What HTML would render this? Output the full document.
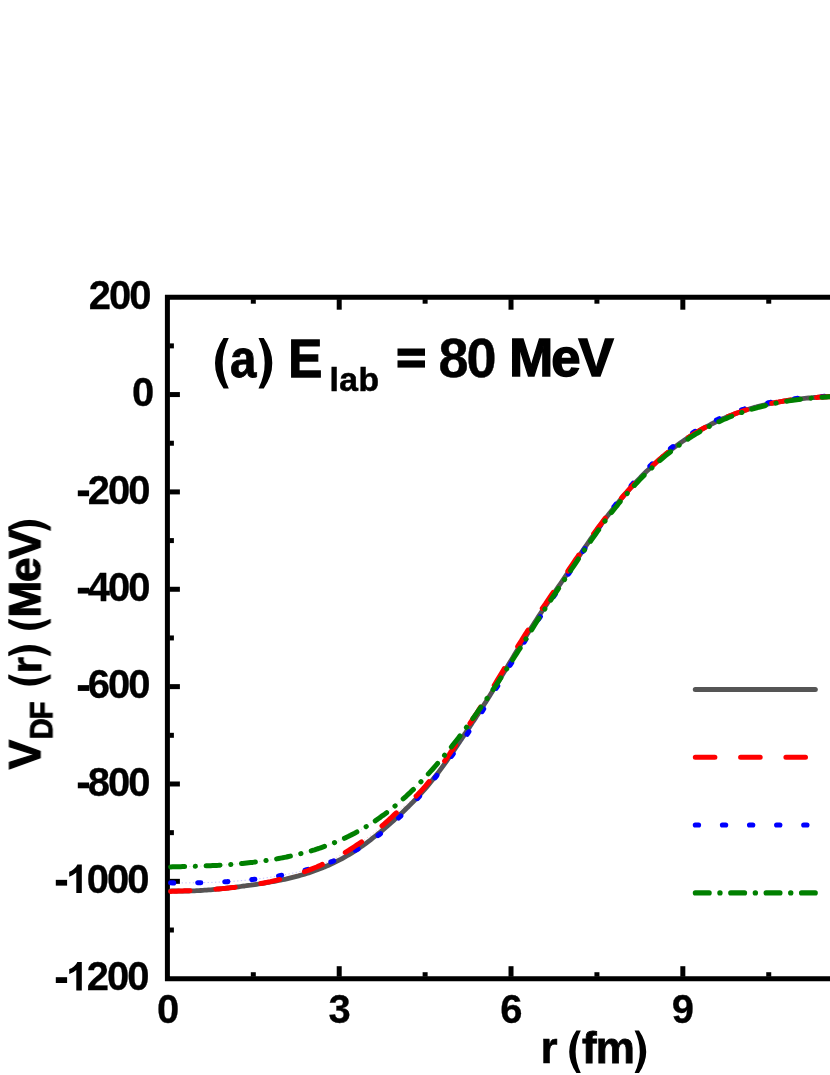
<!DOCTYPE html>
<html><head><meta charset="utf-8"><title>chart</title>
<style>
html,body{margin:0;padding:0;background:#fff;}
body{width:830px;height:1075px;overflow:hidden;}
svg{display:block;}
text{font-family:"Liberation Sans",sans-serif;font-weight:bold;fill:#000;}
</style></head><body>
<svg width="830" height="1075" viewBox="0 0 830 1075">
<rect width="830" height="1075" fill="#fff"/>
<g stroke="#000" stroke-width="5.0" fill="none">
<path d="M840,297.2 H167.4 V978.7 H840" stroke-linejoin="miter"/>
<line x1="169.40" y1="345.88" x2="173.90" y2="345.88"/>
<line x1="169.40" y1="394.56" x2="179.90" y2="394.56"/>
<line x1="169.40" y1="443.24" x2="173.90" y2="443.24"/>
<line x1="169.40" y1="491.91" x2="179.90" y2="491.91"/>
<line x1="169.40" y1="540.59" x2="173.90" y2="540.59"/>
<line x1="169.40" y1="589.27" x2="179.90" y2="589.27"/>
<line x1="169.40" y1="637.95" x2="173.90" y2="637.95"/>
<line x1="169.40" y1="686.63" x2="179.90" y2="686.63"/>
<line x1="169.40" y1="735.31" x2="173.90" y2="735.31"/>
<line x1="169.40" y1="783.99" x2="179.90" y2="783.99"/>
<line x1="169.40" y1="832.66" x2="173.90" y2="832.66"/>
<line x1="169.40" y1="881.34" x2="179.90" y2="881.34"/>
<line x1="169.40" y1="930.02" x2="173.90" y2="930.02"/>
<line x1="253.31" y1="976.70" x2="253.31" y2="972.20"/>
<line x1="253.31" y1="299.20" x2="253.31" y2="303.70"/>
<line x1="339.21" y1="976.70" x2="339.21" y2="966.20"/>
<line x1="339.21" y1="299.20" x2="339.21" y2="309.70"/>
<line x1="425.12" y1="976.70" x2="425.12" y2="972.20"/>
<line x1="425.12" y1="299.20" x2="425.12" y2="303.70"/>
<line x1="511.02" y1="976.70" x2="511.02" y2="966.20"/>
<line x1="511.02" y1="299.20" x2="511.02" y2="309.70"/>
<line x1="596.93" y1="976.70" x2="596.93" y2="972.20"/>
<line x1="596.93" y1="299.20" x2="596.93" y2="303.70"/>
<line x1="682.83" y1="976.70" x2="682.83" y2="966.20"/>
<line x1="682.83" y1="299.20" x2="682.83" y2="309.70"/>
<line x1="768.74" y1="976.70" x2="768.74" y2="972.20"/>
<line x1="768.74" y1="299.20" x2="768.74" y2="303.70"/>
</g>
<g fill="none" stroke-linecap="round" stroke-linejoin="round">
<path d="M170.6,890.9 L172.6,890.9 L174.6,891.0 L176.6,891.0 L178.6,891.0 L180.6,891.1 L182.6,891.1 L184.6,891.0 L186.6,891.0 L188.6,891.0 L190.6,890.9 L192.6,890.8 L194.6,890.8 L196.6,890.7 L198.6,890.6 L200.6,890.5 L202.6,890.4 L204.6,890.2 L206.6,890.1 L208.6,889.9 L210.6,889.8 L212.6,889.6 L214.6,889.4 L216.6,889.2 L218.6,889.0 L220.6,888.8 L222.6,888.6 L224.6,888.4 L226.6,888.2 L228.6,888.0 L230.6,887.7 L232.6,887.5 L234.6,887.3 L236.6,887.0 L238.6,886.8 L240.6,886.5 L242.6,886.2 L244.6,886.0 L246.6,885.7 L248.6,885.4 L250.6,885.2 L252.6,884.9 L254.6,884.6 L256.6,884.3 L258.6,884.0 L260.6,883.7 L262.6,883.4 L264.6,883.1 L266.6,882.7 L268.6,882.4 L270.6,882.0 L272.6,881.7 L274.6,881.3 L276.6,880.9 L278.6,880.5 L280.6,880.1 L282.6,879.7 L284.6,879.3 L286.6,878.9 L288.6,878.4 L290.6,877.9 L292.6,877.4 L294.6,876.9 L296.6,876.4 L298.6,875.9 L300.6,875.3 L302.6,874.7 L304.6,874.1 L306.6,873.5 L308.6,872.9 L310.6,872.2 L312.6,871.5 L314.6,870.8 L316.6,870.1 L318.6,869.3 L320.6,868.6 L322.6,867.8 L324.6,866.9 L326.6,866.1 L328.6,865.2 L330.6,864.3 L332.6,863.4 L334.6,862.4 L336.6,861.4 L338.6,860.4 L340.6,859.4 L342.6,858.3 L344.6,857.2 L346.6,856.0 L348.6,854.9 L350.6,853.7 L352.6,852.4 L354.6,851.2 L356.6,849.8 L358.6,848.5 L360.6,847.1 L362.6,845.7 L364.6,844.3 L366.6,842.8 L368.6,841.3 L370.6,839.8 L372.6,838.2 L374.6,836.7 L376.6,835.1 L378.6,833.4 L380.6,831.8 L382.6,830.1 L384.6,828.4 L386.6,826.7 L388.6,824.9 L390.6,823.1 L392.6,821.4 L394.6,819.6 L396.6,817.7 L398.6,815.9 L400.6,814.0 L402.6,812.2 L404.6,810.3 L406.6,808.3 L408.6,806.4 L410.6,804.4 L412.6,802.4 L414.6,800.3 L416.6,798.2 L418.6,796.1 L420.6,793.9 L422.6,791.7 L424.6,789.4 L426.6,787.1 L428.6,784.7 L430.6,782.3 L432.6,779.8 L434.6,777.3 L436.6,774.7 L438.6,772.1 L440.6,769.4 L442.6,766.6 L444.6,763.8 L446.6,761.0 L448.6,758.2 L450.6,755.3 L452.6,752.3 L454.6,749.4 L456.6,746.4 L458.6,743.4 L460.6,740.4 L462.6,737.4 L464.6,734.4 L466.6,731.4 L468.6,728.4 L470.6,725.4 L472.6,722.3 L474.6,719.3 L476.6,716.2 L478.6,713.1 L480.6,710.0 L482.6,706.9 L484.6,703.8 L486.6,700.7 L488.6,697.5 L490.6,694.3 L492.6,691.1 L494.6,687.8 L496.6,684.5 L498.6,681.2 L500.6,677.9 L502.6,674.6 L504.6,671.2 L506.6,667.9 L508.6,664.6 L510.6,661.2 L512.6,657.9 L514.6,654.6 L516.6,651.3 L518.6,648.1 L520.6,644.8 L522.6,641.6 L524.6,638.4 L526.6,635.2 L528.6,632.0 L530.6,628.8 L532.6,625.7 L534.6,622.6 L536.6,619.5 L538.6,616.4 L540.6,613.4 L542.6,610.3 L544.6,607.3 L546.6,604.3 L548.6,601.3 L550.6,598.3 L552.6,595.3 L554.6,592.3 L556.6,589.4 L558.6,586.4 L560.6,583.5 L562.6,580.5 L564.6,577.5 L566.6,574.6 L568.6,571.6 L570.6,568.6 L572.6,565.6 L574.6,562.7 L576.6,559.7 L578.6,556.8 L580.6,553.8 L582.6,550.9 L584.6,547.9 L586.6,545.0 L588.6,542.1 L590.6,539.2 L592.6,536.4 L594.6,533.5 L596.6,530.7 L598.6,527.9 L600.6,525.2 L602.6,522.5 L604.6,519.8 L606.6,517.1 L608.6,514.5 L610.6,511.9 L612.6,509.4 L614.6,506.9 L616.6,504.4 L618.6,501.9 L620.6,499.5 L622.6,497.1 L624.6,494.8 L626.6,492.5 L628.6,490.2 L630.6,488.0 L632.6,485.8 L634.6,483.6 L636.6,481.5 L638.6,479.4 L640.6,477.3 L642.6,475.3 L644.6,473.3 L646.6,471.3 L648.6,469.4 L650.6,467.5 L652.6,465.6 L654.6,463.8 L656.6,462.0 L658.6,460.2 L660.6,458.5 L662.6,456.7 L664.6,455.1 L666.6,453.4 L668.6,451.8 L670.6,450.2 L672.6,448.7 L674.6,447.2 L676.6,445.7 L678.6,444.2 L680.6,442.8 L682.6,441.4 L684.6,440.0 L686.6,438.6 L688.6,437.3 L690.6,436.0 L692.6,434.7 L694.6,433.5 L696.6,432.3 L698.6,431.1 L700.6,429.9 L702.6,428.8 L704.6,427.7 L706.6,426.6 L708.6,425.6 L710.6,424.5 L712.6,423.5 L714.6,422.5 L716.6,421.6 L718.6,420.6 L720.6,419.7 L722.6,418.8 L724.6,418.0 L726.6,417.1 L728.6,416.3 L730.6,415.5 L732.6,414.7 L734.6,413.9 L736.6,413.2 L738.6,412.5 L740.6,411.8 L742.6,411.1 L744.6,410.4 L746.6,409.8 L748.6,409.2 L750.6,408.6 L752.6,408.0 L754.6,407.4 L756.6,406.9 L758.6,406.3 L760.6,405.8 L762.6,405.3 L764.6,404.9 L766.6,404.4 L768.6,403.9 L770.6,403.5 L772.6,403.1 L774.6,402.7 L776.6,402.3 L778.6,402.0 L780.6,401.6 L782.6,401.3 L784.6,400.9 L786.6,400.6 L788.6,400.3 L790.6,400.0 L792.6,399.8 L794.6,399.5 L796.6,399.3 L798.6,399.0 L800.6,398.8 L802.6,398.6 L804.6,398.4 L806.6,398.2 L808.6,398.0 L810.6,397.8 L812.6,397.7 L814.6,397.5 L816.6,397.4 L818.6,397.2 L820.6,397.1 L822.6,397.0 L824.6,396.9 L826.6,396.8 L828.6,396.7 L830.6,396.6 L832.6,396.5 L834.6,396.5 L836.6,396.4" stroke="#555555" stroke-width="4.8"/>
<path d="M170.6,882.8 L172.6,882.9 L174.6,882.9 L176.6,882.9 L178.6,882.9 L180.6,882.9 L182.6,882.9 L184.6,882.9 L186.6,882.9 L188.6,882.9 L190.6,882.8 L192.6,882.8 L194.6,882.8 L196.6,882.8 L198.6,882.7 L200.6,882.7 L202.6,882.6 L204.6,882.6 L206.6,882.5 L208.6,882.5 L210.6,882.4 L212.6,882.4 L214.6,882.3 L216.6,882.2 L218.6,882.1 L220.6,882.0 L222.6,881.9 L224.6,881.8 L226.6,881.7 L228.6,881.6 L230.6,881.4 L232.6,881.3 L234.6,881.2 L236.6,881.0 L238.6,880.9 L240.6,880.7 L242.6,880.5 L244.6,880.3 L246.6,880.2 L248.6,880.0 L250.6,879.7 L252.6,879.5 L254.6,879.3 L256.6,879.1 L258.6,878.8 L260.6,878.6 L262.6,878.3 L264.6,878.1 L266.6,877.8 L268.6,877.5 L270.6,877.2 L272.6,876.9 L274.6,876.6 L276.6,876.2 L278.6,875.9 L280.6,875.5 L282.6,875.2 L284.6,874.8 L286.6,874.4 L288.6,874.0 L290.6,873.6 L292.6,873.2 L294.6,872.7 L296.6,872.3 L298.6,871.8 L300.6,871.3 L302.6,870.9 L304.6,870.3 L306.6,869.8 L308.6,869.3 L310.6,868.7 L312.6,868.2 L314.6,867.6 L316.6,867.0 L318.6,866.3 L320.6,865.7 L322.6,865.0 L324.6,864.3 L326.6,863.6 L328.6,862.9 L330.6,862.1 L332.6,861.3 L334.6,860.5 L336.6,859.7 L338.6,858.8 L340.6,857.9 L342.6,857.0 L344.6,856.1 L346.6,855.1 L348.6,854.1 L350.6,853.0 L352.6,852.0 L354.6,850.9 L356.6,849.7 L358.6,848.6 L360.6,847.4 L362.6,846.2 L364.6,844.9 L366.6,843.6 L368.6,842.3 L370.6,840.9 L372.6,839.5 L374.6,838.1 L376.6,836.6 L378.6,835.1 L380.6,833.6 L382.6,832.0 L384.6,830.4 L386.6,828.7 L388.6,827.0 L390.6,825.3 L392.6,823.5 L394.6,821.7 L396.6,819.9 L398.6,818.0 L400.6,816.1 L402.6,814.1 L404.6,812.2 L406.6,810.1 L408.6,808.1 L410.6,806.0 L412.6,803.9 L414.6,801.7 L416.6,799.5 L418.6,797.3 L420.6,795.1 L422.6,792.8 L424.6,790.4 L426.6,788.1 L428.6,785.7 L430.6,783.3 L432.6,780.8 L434.6,778.3 L436.6,775.8 L438.6,773.3 L440.6,770.7 L442.6,768.1 L444.6,765.5 L446.6,762.8 L448.6,760.2 L450.6,757.5 L452.6,754.7 L454.6,752.0 L456.6,749.2 L458.6,746.4 L460.6,743.6 L462.6,740.7 L464.6,737.9 L466.6,735.0 L468.6,732.1 L470.6,729.1 L472.6,726.1 L474.7,723.0 L476.8,719.8 L478.9,716.5 L481.1,713.1 L483.2,709.7 L485.4,706.2 L487.5,702.7 L489.6,699.2 L491.8,695.7 L493.9,692.2 L495.9,688.7 L498.0,685.4 L500.0,682.1 L502.0,678.7 L504.0,675.4 L506.0,672.1 L508.0,668.7 L510.0,665.4 L512.0,662.1 L514.0,658.7 L516.0,655.5 L518.0,652.2 L520.0,648.9 L522.0,645.7 L524.0,642.4 L526.0,639.2 L528.0,636.0 L530.0,632.9 L532.0,629.7 L533.9,626.6 L535.9,623.5 L537.9,620.4 L539.9,617.3 L541.9,614.2 L543.9,611.2 L545.9,608.2 L547.9,605.2 L549.9,602.2 L551.9,599.2 L553.9,596.2 L555.9,593.2 L557.9,590.3 L559.9,587.3 L561.9,584.3 L563.8,581.3 L565.8,578.3 L567.7,575.3 L569.6,572.3 L571.6,569.3 L573.5,566.3 L575.4,563.2 L577.4,560.2 L579.3,557.2 L581.2,554.2 L583.2,551.3 L585.1,548.3 L587.0,545.3 L589.0,542.4 L590.9,539.5 L592.8,536.6 L594.8,533.7 L596.7,530.8 L598.6,528.0 L600.6,525.2 L602.5,522.4 L604.5,519.7 L606.4,517.0 L608.3,514.3 L610.3,511.7 L612.2,509.1 L614.2,506.5 L616.1,504.0 L618.1,501.5 L620.0,499.0 L622.0,496.6 L623.9,494.2 L625.8,491.8 L627.8,489.5 L629.7,487.2 L631.7,485.0 L633.6,482.7 L635.6,480.5 L637.6,478.4 L639.5,476.3 L641.5,474.2 L643.5,472.2 L645.6,470.2 L647.6,468.3 L649.6,466.4 L651.6,464.5 L653.6,462.7 L655.6,460.8 L657.6,459.1 L659.6,457.3 L661.6,455.6 L663.6,453.9 L665.7,452.3 L667.7,450.6 L669.7,449.1 L671.7,447.5 L673.7,446.0 L675.7,444.5 L677.7,443.0 L679.7,441.5 L681.7,440.1 L683.8,438.7 L685.8,437.4 L687.8,436.1 L689.8,434.8 L691.8,433.5 L693.8,432.2 L695.8,431.0 L697.8,429.8 L699.9,428.6 L701.9,427.5 L703.9,426.4 L705.9,425.3 L707.9,424.2 L709.9,423.2 L711.9,422.2 L713.9,421.2 L716.0,420.2 L718.0,419.3 L720.0,418.3 L722.0,417.4 L724.0,416.6 L726.0,415.7 L728.0,414.9 L730.0,414.1 L732.1,413.3 L734.1,412.5 L736.1,411.8 L738.1,411.1 L740.1,410.4 L742.1,409.7 L744.2,409.1 L746.2,408.4 L748.2,407.8 L750.2,407.3 L752.2,406.7 L754.2,406.2 L756.3,405.6 L758.3,405.1 L760.3,404.6 L762.3,404.2 L764.3,403.7 L766.3,403.3 L768.4,402.8 L770.4,402.4 L772.4,402.0 L774.4,401.7 L776.4,401.3 L778.4,401.0 L780.4,400.6 L782.4,400.3 L784.5,400.0 L786.5,399.7 L788.5,399.4 L790.5,399.2 L792.5,398.9 L794.5,398.7 L796.5,398.5 L798.5,398.3 L800.5,398.1 L802.5,397.9 L804.5,397.7 L806.5,397.5 L808.5,397.4 L810.5,397.2 L812.6,397.1 L814.6,397.0 L816.6,396.8 L818.6,396.7 L820.6,396.6 L822.6,396.5 L824.6,396.4 L826.6,396.4 L828.6,396.3 L830.6,396.2 L832.6,396.2 L834.6,396.1 L836.6,396.1" stroke="#0000ff" stroke-width="0.8" stroke-dasharray="1.3 2.4" opacity="0.3" stroke-linecap="butt"/>
<path d="M170.6,882.8 L172.6,882.9 L174.6,882.9 L176.6,882.9 L178.6,882.9 L180.6,882.9 L182.6,882.9 L184.6,882.9 L186.6,882.9 L188.6,882.9 L190.6,882.8 L192.6,882.8 L194.6,882.8 L196.6,882.8 L198.6,882.7 L200.6,882.7 L202.6,882.6 L204.6,882.6 L206.6,882.5 L208.6,882.5 L210.6,882.4 L212.6,882.4 L214.6,882.3 L216.6,882.2 L218.6,882.1 L220.6,882.0 L222.6,881.9 L224.6,881.8 L226.6,881.7 L228.6,881.6 L230.6,881.4 L232.6,881.3 L234.6,881.2 L236.6,881.0 L238.6,880.9 L240.6,880.7 L242.6,880.5 L244.6,880.3 L246.6,880.2 L248.6,880.0 L250.6,879.7 L252.6,879.5 L254.6,879.3 L256.6,879.1 L258.6,878.8 L260.6,878.6 L262.6,878.3 L264.6,878.1 L266.6,877.8 L268.6,877.5 L270.6,877.2 L272.6,876.9 L274.6,876.6 L276.6,876.2 L278.6,875.9 L280.6,875.5 L282.6,875.2 L284.6,874.8 L286.6,874.4 L288.6,874.0 L290.6,873.6 L292.6,873.2 L294.6,872.7 L296.6,872.3 L298.6,871.8 L300.6,871.3 L302.6,870.9 L304.6,870.3 L306.6,869.8 L308.6,869.3 L310.6,868.7 L312.6,868.2 L314.6,867.6 L316.6,867.0 L318.6,866.3 L320.6,865.7 L322.6,865.0 L324.6,864.3 L326.6,863.6 L328.6,862.9 L330.6,862.1 L332.6,861.3 L334.6,860.5 L336.6,859.7 L338.6,858.8 L340.6,857.9 L342.6,857.0 L344.6,856.1 L346.6,855.1 L348.6,854.1 L350.6,853.0 L352.6,852.0 L354.6,850.9 L356.6,849.7 L358.6,848.6 L360.6,847.4 L362.6,846.2 L364.6,844.9 L366.6,843.6 L368.6,842.3 L370.6,840.9 L372.6,839.5 L374.6,838.1 L376.6,836.6 L378.6,835.1 L380.6,833.6 L382.6,832.0 L384.6,830.4 L386.6,828.7 L388.6,827.0 L390.6,825.3 L392.6,823.5 L394.6,821.7 L396.6,819.9 L398.6,818.0 L400.6,816.1 L402.6,814.1 L404.6,812.2 L406.6,810.1 L408.6,808.1 L410.6,806.0 L412.6,803.9 L414.6,801.7 L416.6,799.5 L418.6,797.3 L420.6,795.1 L422.6,792.8 L424.6,790.4 L426.6,788.1 L428.6,785.7 L430.6,783.3 L432.6,780.8 L434.6,778.3 L436.6,775.8 L438.6,773.3 L440.6,770.7 L442.6,768.1 L444.6,765.5 L446.6,762.8 L448.6,760.2 L450.6,757.5 L452.6,754.7 L454.6,752.0 L456.6,749.2 L458.6,746.4 L460.6,743.6 L462.6,740.7 L464.6,737.9 L466.6,735.0 L468.6,732.1 L470.6,729.1 L472.6,726.1 L474.7,723.0 L476.8,719.8 L478.9,716.5 L481.1,713.1 L483.2,709.7 L485.4,706.2 L487.5,702.7 L489.6,699.2 L491.8,695.7 L493.9,692.2 L495.9,688.7 L498.0,685.4 L500.0,682.1 L502.0,678.7 L504.0,675.4 L506.0,672.1 L508.0,668.7 L510.0,665.4 L512.0,662.1 L514.0,658.7 L516.0,655.5 L518.0,652.2 L520.0,648.9 L522.0,645.7 L524.0,642.4 L526.0,639.2 L528.0,636.0 L530.0,632.9 L532.0,629.7 L533.9,626.6 L535.9,623.5 L537.9,620.4 L539.9,617.3 L541.9,614.2 L543.9,611.2 L545.9,608.2 L547.9,605.2 L549.9,602.2 L551.9,599.2 L553.9,596.2 L555.9,593.2 L557.9,590.3 L559.9,587.3 L561.9,584.3 L563.8,581.3 L565.8,578.3 L567.7,575.3 L569.6,572.3 L571.6,569.3 L573.5,566.3 L575.4,563.2 L577.4,560.2 L579.3,557.2 L581.2,554.2 L583.2,551.3 L585.1,548.3 L587.0,545.3 L589.0,542.4 L590.9,539.5 L592.8,536.6 L594.8,533.7 L596.7,530.8 L598.6,528.0 L600.6,525.2 L602.5,522.4 L604.5,519.7 L606.4,517.0 L608.3,514.3 L610.3,511.7 L612.2,509.1 L614.2,506.5 L616.1,504.0 L618.1,501.5 L620.0,499.0 L622.0,496.6 L623.9,494.2 L625.8,491.8 L627.8,489.5 L629.7,487.2 L631.7,485.0 L633.6,482.7 L635.6,480.5 L637.6,478.4 L639.5,476.3 L641.5,474.2 L643.5,472.2 L645.6,470.2 L647.6,468.3 L649.6,466.4 L651.6,464.5 L653.6,462.7 L655.6,460.8 L657.6,459.1 L659.6,457.3 L661.6,455.6 L663.6,453.9 L665.7,452.3 L667.7,450.6 L669.7,449.1 L671.7,447.5 L673.7,446.0 L675.7,444.5 L677.7,443.0 L679.7,441.5 L681.7,440.1 L683.8,438.7 L685.8,437.4 L687.8,436.1 L689.8,434.8 L691.8,433.5 L693.8,432.2 L695.8,431.0 L697.8,429.8 L699.9,428.6 L701.9,427.5 L703.9,426.4 L705.9,425.3 L707.9,424.2 L709.9,423.2 L711.9,422.2 L713.9,421.2 L716.0,420.2 L718.0,419.3 L720.0,418.3 L722.0,417.4 L724.0,416.6 L726.0,415.7 L728.0,414.9 L730.0,414.1 L732.1,413.3 L734.1,412.5 L736.1,411.8 L738.1,411.1 L740.1,410.4 L742.1,409.7 L744.2,409.1 L746.2,408.4 L748.2,407.8 L750.2,407.3 L752.2,406.7 L754.2,406.2 L756.3,405.6 L758.3,405.1 L760.3,404.6 L762.3,404.2 L764.3,403.7 L766.3,403.3 L768.4,402.8 L770.4,402.4 L772.4,402.0 L774.4,401.7 L776.4,401.3 L778.4,401.0 L780.4,400.6 L782.4,400.3 L784.5,400.0 L786.5,399.7 L788.5,399.4 L790.5,399.2 L792.5,398.9 L794.5,398.7 L796.5,398.5 L798.5,398.3 L800.5,398.1 L802.5,397.9 L804.5,397.7 L806.5,397.5 L808.5,397.4 L810.5,397.2 L812.6,397.1 L814.6,397.0 L816.6,396.8 L818.6,396.7 L820.6,396.6 L822.6,396.5 L824.6,396.4 L826.6,396.4 L828.6,396.3 L830.6,396.2 L832.6,396.2 L834.6,396.1 L836.6,396.1" stroke="#0000ff" stroke-width="5.1" stroke-dasharray="3.1 24"/>
<path d="M170.6,891.4 L172.6,891.3 L174.6,891.2 L176.6,891.2 L178.6,891.1 L180.6,891.0 L182.6,890.9 L184.6,890.8 L186.6,890.8 L188.6,890.7 L190.6,890.6 L192.6,890.5 L194.6,890.4 L196.6,890.3 L198.6,890.2 L200.6,890.1 L202.6,890.0 L204.6,889.9 L206.6,889.7 L208.6,889.6 L210.6,889.5 L212.6,889.4 L214.6,889.2 L216.6,889.1 L218.6,888.9 L220.6,888.7 L222.6,888.6 L224.6,888.4 L226.6,888.2 L228.6,888.0 L230.6,887.8 L232.6,887.6 L234.6,887.4 L236.6,887.2 L238.6,886.9 L240.6,886.7 L242.6,886.4 L244.6,886.1 L246.6,885.9 L248.6,885.6 L250.6,885.3 L252.6,885.0 L254.6,884.6 L256.6,884.3 L258.6,883.9 L260.6,883.6 L262.6,883.2 L264.6,882.8 L266.6,882.4 L268.6,882.0 L270.6,881.6 L272.6,881.1 L274.6,880.6 L276.6,880.2 L278.6,879.7 L280.6,879.2 L282.6,878.6 L284.6,878.1 L286.6,877.5 L288.6,877.0 L290.6,876.4 L292.6,875.8 L294.6,875.1 L296.6,874.5 L298.6,873.8 L300.6,873.1 L302.6,872.4 L304.6,871.7 L306.6,871.0 L308.6,870.2 L310.6,869.4 L312.6,868.6 L314.6,867.8 L316.6,867.0 L318.6,866.1 L320.6,865.2 L322.6,864.3 L324.6,863.4 L326.6,862.4 L328.6,861.4 L330.6,860.4 L332.6,859.4 L334.6,858.4 L336.6,857.3 L338.6,856.2 L340.6,855.1 L342.6,853.9 L344.6,852.8 L346.6,851.6 L348.6,850.4 L350.6,849.1 L352.6,847.8 L354.6,846.5 L356.6,845.2 L358.6,843.9 L360.6,842.5 L362.6,841.1 L364.6,839.6 L366.6,838.2 L368.6,836.7 L370.6,835.1 L372.6,833.6 L374.6,832.0 L376.6,830.4 L378.6,828.7 L380.6,827.1 L382.6,825.3 L384.6,823.6 L386.6,821.8 L388.6,820.0 L390.6,818.2 L392.6,816.3 L394.6,814.4 L396.6,812.6 L398.5,810.8 L400.5,809.1 L402.4,807.4 L404.3,805.9 L406.1,804.4 L408.0,802.9 L409.9,801.4 L411.7,799.9 L413.6,798.3 L415.5,796.7 L417.5,794.8 L419.4,792.8 L421.4,790.6 L423.4,788.4 L425.4,786.1 L427.4,783.7 L429.4,781.3 L431.3,778.8 L433.3,776.3 L435.3,773.7 L437.3,771.1 L439.3,768.4 L441.3,765.7 L443.3,762.9 L445.3,760.1 L447.3,757.2 L449.3,754.4 L451.3,751.4 L453.3,748.5 L455.3,745.5 L457.3,742.6 L459.3,739.6 L461.3,736.5 L463.3,733.5 L465.3,730.5 L467.3,727.5 L469.3,724.5 L471.3,721.4 L473.3,718.4 L475.3,715.3 L477.3,712.3 L479.3,709.2 L481.3,706.1 L483.3,703.0 L485.2,699.8 L487.2,696.6 L489.2,693.4 L491.2,690.2 L493.2,687.0 L495.2,683.7 L497.2,680.4 L499.2,677.1 L501.2,673.8 L503.2,670.4 L505.2,667.1 L507.2,663.7 L509.2,660.4 L511.2,657.1 L513.2,653.8 L515.2,650.5 L517.2,647.2 L519.2,644.0 L521.3,640.8 L523.3,637.6 L525.3,634.4 L527.3,631.2 L529.4,628.1 L531.4,624.9 L533.4,621.8 L535.4,618.7 L537.5,615.7 L539.5,612.6 L541.5,609.6 L543.5,606.6 L545.6,603.6 L547.6,600.6 L549.6,597.6 L551.6,594.7 L553.7,591.7 L555.7,588.8 L557.7,585.8 L559.7,582.9 L561.7,579.9 L563.8,577.0 L565.8,574.0 L567.8,571.1 L569.8,568.1 L571.9,565.1 L573.9,562.2 L575.9,559.2 L577.9,556.3 L579.9,553.4 L582.0,550.4 L584.0,547.5 L586.0,544.6 L588.0,541.7 L590.1,538.9 L592.1,536.0 L594.1,533.2 L596.1,530.4 L598.2,527.6 L600.2,524.9 L602.2,522.2 L604.2,519.5 L606.2,516.9 L608.3,514.2 L610.3,511.7 L612.3,509.1 L614.3,506.6 L616.4,504.2 L618.4,501.7 L620.4,499.3 L622.4,497.0 L624.4,494.7 L626.5,492.4 L628.5,490.1 L630.5,487.9 L632.5,485.7 L634.5,483.6 L636.6,481.4 L638.6,479.4 L640.6,477.3 L642.6,475.3 L644.6,473.3 L646.6,471.3 L648.6,469.4 L650.6,467.5 L652.6,465.6 L654.6,463.8 L656.6,462.0 L658.6,460.2 L660.6,458.5 L662.6,456.7 L664.6,455.1 L666.6,453.4 L668.6,451.8 L670.6,450.2 L672.6,448.7 L674.6,447.2 L676.6,445.7 L678.6,444.2 L680.6,442.8 L682.6,441.4 L684.6,440.0 L686.6,438.6 L688.6,437.3 L690.6,436.0 L692.6,434.7 L694.6,433.5 L696.6,432.3 L698.6,431.1 L700.6,429.9 L702.6,428.8 L704.6,427.7 L706.6,426.6 L708.6,425.6 L710.6,424.5 L712.6,423.5 L714.6,422.5 L716.6,421.6 L718.6,420.6 L720.6,419.7 L722.6,418.8 L724.6,418.0 L726.6,417.1 L728.6,416.3 L730.6,415.5 L732.6,414.7 L734.6,413.9 L736.6,413.2 L738.6,412.5 L740.6,411.8 L742.6,411.1 L744.6,410.4 L746.6,409.8 L748.6,409.2 L750.6,408.6 L752.6,408.0 L754.6,407.4 L756.6,406.9 L758.6,406.3 L760.6,405.8 L762.6,405.3 L764.6,404.9 L766.6,404.4 L768.6,403.9 L770.6,403.5 L772.6,403.1 L774.6,402.7 L776.6,402.3 L778.6,402.0 L780.6,401.6 L782.6,401.3 L784.6,400.9 L786.6,400.6 L788.6,400.3 L790.6,400.0 L792.6,399.8 L794.6,399.5 L796.6,399.3 L798.6,399.0 L800.6,398.8 L802.6,398.6 L804.6,398.4 L806.6,398.2 L808.6,398.0 L810.6,397.8 L812.6,397.7 L814.6,397.5 L816.6,397.4 L818.6,397.2 L820.6,397.1 L822.6,397.0 L824.6,396.9 L826.6,396.8 L828.6,396.7 L830.6,396.6 L832.6,396.5 L834.6,396.5 L836.6,396.4" stroke="#ff0000" stroke-width="0.8" stroke-dasharray="1.3 2.4" opacity="0.25" stroke-linecap="butt"/>
<path d="M170.6,891.4 L172.6,891.3 L174.6,891.2 L176.6,891.2 L178.6,891.1 L180.6,891.0 L182.6,890.9 L184.6,890.8 L186.6,890.8 L188.6,890.7 L190.6,890.6 L192.6,890.5 L194.6,890.4 L196.6,890.3 L198.6,890.2 L200.6,890.1 L202.6,890.0 L204.6,889.9 L206.6,889.7 L208.6,889.6 L210.6,889.5 L212.6,889.4 L214.6,889.2 L216.6,889.1 L218.6,888.9 L220.6,888.7 L222.6,888.6 L224.6,888.4 L226.6,888.2 L228.6,888.0 L230.6,887.8 L232.6,887.6 L234.6,887.4 L236.6,887.2 L238.6,886.9 L240.6,886.7 L242.6,886.4 L244.6,886.1 L246.6,885.9 L248.6,885.6 L250.6,885.3 L252.6,885.0 L254.6,884.6 L256.6,884.3 L258.6,883.9 L260.6,883.6 L262.6,883.2 L264.6,882.8 L266.6,882.4 L268.6,882.0 L270.6,881.6 L272.6,881.1 L274.6,880.6 L276.6,880.2 L278.6,879.7 L280.6,879.2 L282.6,878.6 L284.6,878.1 L286.6,877.5 L288.6,877.0 L290.6,876.4 L292.6,875.8 L294.6,875.1 L296.6,874.5 L298.6,873.8 L300.6,873.1 L302.6,872.4 L304.6,871.7 L306.6,871.0 L308.6,870.2 L310.6,869.4 L312.6,868.6 L314.6,867.8 L316.6,867.0 L318.6,866.1 L320.6,865.2 L322.6,864.3 L324.6,863.4 L326.6,862.4 L328.6,861.4 L330.6,860.4 L332.6,859.4 L334.6,858.4 L336.6,857.3 L338.6,856.2 L340.6,855.1 L342.6,853.9 L344.6,852.8 L346.6,851.6 L348.6,850.4 L350.6,849.1 L352.6,847.8 L354.6,846.5 L356.6,845.2 L358.6,843.9 L360.6,842.5 L362.6,841.1 L364.6,839.6 L366.6,838.2 L368.6,836.7 L370.6,835.1 L372.6,833.6 L374.6,832.0 L376.6,830.4 L378.6,828.7 L380.6,827.1 L382.6,825.3 L384.6,823.6 L386.6,821.8 L388.6,820.0 L390.6,818.2 L392.6,816.3 L394.6,814.4 L396.6,812.6 L398.5,810.8 L400.5,809.1 L402.4,807.4 L404.3,805.9 L406.1,804.4 L408.0,802.9 L409.9,801.4 L411.7,799.9 L413.6,798.3 L415.5,796.7 L417.5,794.8 L419.4,792.8 L421.4,790.6 L423.4,788.4 L425.4,786.1 L427.4,783.7 L429.4,781.3 L431.3,778.8 L433.3,776.3 L435.3,773.7 L437.3,771.1 L439.3,768.4 L441.3,765.7 L443.3,762.9 L445.3,760.1 L447.3,757.2 L449.3,754.4 L451.3,751.4 L453.3,748.5 L455.3,745.5 L457.3,742.6 L459.3,739.6 L461.3,736.5 L463.3,733.5 L465.3,730.5 L467.3,727.5 L469.3,724.5 L471.3,721.4 L473.3,718.4 L475.3,715.3 L477.3,712.3 L479.3,709.2 L481.3,706.1 L483.3,703.0 L485.2,699.8 L487.2,696.6 L489.2,693.4 L491.2,690.2 L493.2,687.0 L495.2,683.7 L497.2,680.4 L499.2,677.1 L501.2,673.8 L503.2,670.4 L505.2,667.1 L507.2,663.7 L509.2,660.4 L511.2,657.1 L513.2,653.8 L515.2,650.5 L517.2,647.2 L519.2,644.0 L521.3,640.8 L523.3,637.6 L525.3,634.4 L527.3,631.2 L529.4,628.1 L531.4,624.9 L533.4,621.8 L535.4,618.7 L537.5,615.7 L539.5,612.6 L541.5,609.6 L543.5,606.6 L545.6,603.6 L547.6,600.6 L549.6,597.6 L551.6,594.7 L553.7,591.7 L555.7,588.8 L557.7,585.8 L559.7,582.9 L561.7,579.9 L563.8,577.0 L565.8,574.0 L567.8,571.1 L569.8,568.1 L571.9,565.1 L573.9,562.2 L575.9,559.2 L577.9,556.3 L579.9,553.4 L582.0,550.4 L584.0,547.5 L586.0,544.6 L588.0,541.7 L590.1,538.9 L592.1,536.0 L594.1,533.2 L596.1,530.4 L598.2,527.6 L600.2,524.9 L602.2,522.2 L604.2,519.5 L606.2,516.9 L608.3,514.2 L610.3,511.7 L612.3,509.1 L614.3,506.6 L616.4,504.2 L618.4,501.7 L620.4,499.3 L622.4,497.0 L624.4,494.7 L626.5,492.4 L628.5,490.1 L630.5,487.9 L632.5,485.7 L634.5,483.6 L636.6,481.4 L638.6,479.4 L640.6,477.3 L642.6,475.3 L644.6,473.3 L646.6,471.3 L648.6,469.4 L650.6,467.5 L652.6,465.6 L654.6,463.8 L656.6,462.0 L658.6,460.2 L660.6,458.5 L662.6,456.7 L664.6,455.1 L666.6,453.4 L668.6,451.8 L670.6,450.2 L672.6,448.7 L674.6,447.2 L676.6,445.7 L678.6,444.2 L680.6,442.8 L682.6,441.4 L684.6,440.0 L686.6,438.6 L688.6,437.3 L690.6,436.0 L692.6,434.7 L694.6,433.5 L696.6,432.3 L698.6,431.1 L700.6,429.9 L702.6,428.8 L704.6,427.7 L706.6,426.6 L708.6,425.6 L710.6,424.5 L712.6,423.5 L714.6,422.5 L716.6,421.6 L718.6,420.6 L720.6,419.7 L722.6,418.8 L724.6,418.0 L726.6,417.1 L728.6,416.3 L730.6,415.5 L732.6,414.7 L734.6,413.9 L736.6,413.2 L738.6,412.5 L740.6,411.8 L742.6,411.1 L744.6,410.4 L746.6,409.8 L748.6,409.2 L750.6,408.6 L752.6,408.0 L754.6,407.4 L756.6,406.9 L758.6,406.3 L760.6,405.8 L762.6,405.3 L764.6,404.9 L766.6,404.4 L768.6,403.9 L770.6,403.5 L772.6,403.1 L774.6,402.7 L776.6,402.3 L778.6,402.0 L780.6,401.6 L782.6,401.3 L784.6,400.9 L786.6,400.6 L788.6,400.3 L790.6,400.0 L792.6,399.8 L794.6,399.5 L796.6,399.3 L798.6,399.0 L800.6,398.8 L802.6,398.6 L804.6,398.4 L806.6,398.2 L808.6,398.0 L810.6,397.8 L812.6,397.7 L814.6,397.5 L816.6,397.4 L818.6,397.2 L820.6,397.1 L822.6,397.0 L824.6,396.9 L826.6,396.8 L828.6,396.7 L830.6,396.6 L832.6,396.5 L834.6,396.5 L836.6,396.4" stroke="#ff0000" stroke-width="5.0" stroke-dasharray="19.4 25.9"/>
<path d="M170.6,866.9 L172.6,866.8 L174.6,866.8 L176.6,866.7 L178.6,866.7 L180.6,866.7 L182.6,866.6 L184.6,866.6 L186.6,866.5 L188.6,866.5 L190.6,866.4 L192.6,866.3 L194.6,866.3 L196.6,866.2 L198.6,866.1 L200.6,866.1 L202.6,866.0 L204.6,865.9 L206.6,865.8 L208.6,865.8 L210.6,865.7 L212.6,865.6 L214.6,865.5 L216.6,865.4 L218.6,865.3 L220.6,865.1 L222.6,865.0 L224.6,864.9 L226.6,864.8 L228.6,864.6 L230.6,864.5 L232.6,864.3 L234.6,864.2 L236.6,864.0 L238.6,863.8 L240.6,863.6 L242.6,863.4 L244.6,863.2 L246.6,863.0 L248.6,862.8 L250.6,862.6 L252.6,862.4 L254.6,862.1 L256.6,861.9 L258.6,861.6 L260.6,861.4 L262.6,861.1 L264.6,860.8 L266.6,860.5 L268.6,860.2 L270.6,859.9 L272.6,859.6 L274.6,859.2 L276.6,858.9 L278.6,858.5 L280.6,858.1 L282.6,857.8 L284.6,857.4 L286.6,857.0 L288.6,856.5 L290.6,856.1 L292.6,855.7 L294.6,855.2 L296.6,854.7 L298.6,854.2 L300.6,853.7 L302.6,853.2 L304.6,852.7 L306.6,852.1 L308.6,851.6 L310.6,851.0 L312.6,850.4 L314.6,849.8 L316.6,849.1 L318.6,848.5 L320.6,847.8 L322.6,847.1 L324.6,846.4 L326.6,845.7 L328.6,844.9 L330.6,844.2 L332.6,843.4 L334.6,842.6 L336.6,841.7 L338.6,840.9 L340.6,840.0 L342.6,839.1 L344.6,838.2 L346.6,837.2 L348.6,836.3 L350.6,835.3 L352.6,834.2 L354.6,833.2 L356.6,832.1 L358.6,831.0 L360.6,829.9 L362.6,828.7 L364.6,827.6 L366.6,826.3 L368.6,825.1 L370.6,823.8 L372.6,822.6 L374.6,821.2 L376.6,819.9 L378.6,818.5 L380.6,817.1 L382.6,815.6 L384.6,814.2 L386.6,812.7 L388.6,811.1 L390.6,809.6 L392.6,808.0 L394.6,806.3 L396.6,804.7 L398.6,802.9 L400.6,801.2 L402.6,799.4 L404.6,797.6 L406.6,795.8 L408.6,793.9 L410.6,792.1 L412.6,790.1 L414.6,788.2 L416.6,786.2 L418.6,784.2 L420.6,782.1 L422.6,780.0 L424.6,777.9 L426.6,775.8 L428.6,773.6 L430.6,771.4 L432.6,769.2 L434.6,766.9 L436.6,764.6 L438.6,762.3 L440.6,760.0 L442.6,757.6 L444.6,755.2 L446.6,752.8 L448.6,750.3 L450.6,747.9 L452.6,745.3 L454.6,742.8 L456.6,740.3 L458.6,737.7 L460.6,735.1 L462.6,732.5 L464.6,729.8 L466.6,727.1 L468.6,724.4 L470.6,721.7 L472.6,718.9 L474.6,716.2 L476.6,713.4 L478.6,710.5 L480.6,707.7 L482.6,704.8 L484.6,702.0 L486.6,699.1 L488.6,696.1 L490.6,693.2 L492.6,690.2 L494.6,687.3 L496.6,684.3 L498.6,681.3 L500.6,678.2 L502.6,675.2 L504.6,672.2 L506.6,669.1 L508.6,666.0 L510.6,662.9 L512.6,659.8 L514.6,656.7 L516.6,653.6 L518.6,650.5 L520.6,647.4 L522.6,644.2 L524.7,641.0 L526.7,637.7 L528.8,634.3 L530.9,631.0 L533.0,627.6 L535.1,624.2 L537.2,620.9 L539.3,617.6 L541.4,614.3 L543.4,611.1 L545.5,608.0 L547.5,604.9 L549.5,601.9 L551.5,598.9 L553.5,595.9 L555.5,593.0 L557.5,590.0 L559.5,587.0 L561.5,584.1 L563.5,581.1 L565.5,578.1 L567.5,575.2 L569.5,572.2 L571.5,569.2 L573.5,566.3 L575.5,563.3 L577.5,560.3 L579.5,557.4 L581.5,554.4 L583.5,551.5 L585.5,548.6 L587.5,545.6 L589.5,542.7 L591.5,539.9 L593.5,537.0 L595.5,534.2 L597.5,531.4 L599.5,528.6 L601.5,525.8 L603.5,523.1 L605.5,520.4 L607.5,517.8 L609.5,515.2 L611.5,512.6 L613.5,510.0 L615.5,507.5 L617.5,505.1 L619.4,502.6 L621.4,500.2 L623.4,497.9 L625.4,495.5 L627.4,493.2 L629.4,490.9 L631.4,488.7 L633.4,486.5 L635.4,484.4 L637.4,482.2 L639.4,480.1 L641.4,478.1 L643.4,476.0 L645.4,474.1 L647.4,472.1 L649.4,470.2 L651.4,468.3 L653.3,466.4 L655.3,464.6 L657.3,462.8 L659.3,461.0 L661.3,459.3 L663.3,457.6 L665.3,455.9 L667.3,454.3 L669.3,452.7 L671.3,451.1 L673.3,449.6 L675.3,448.0 L677.3,446.5 L679.2,445.1 L681.2,443.7 L683.2,442.3 L685.2,440.9 L687.2,439.5 L689.2,438.2 L691.2,436.9 L693.2,435.7 L695.2,434.4 L697.2,433.2 L699.2,432.1 L701.1,430.9 L703.1,429.8 L705.1,428.7 L707.1,427.6 L709.1,426.5 L711.1,425.5 L713.1,424.5 L715.1,423.5 L717.1,422.6 L719.1,421.6 L721.1,420.7 L723.0,419.8 L725.0,419.0 L727.0,418.1 L729.0,417.3 L731.0,416.5 L733.0,415.7 L735.0,415.0 L737.0,414.2 L739.0,413.5 L741.0,412.8 L742.9,412.1 L744.9,411.4 L746.9,410.8 L748.9,410.1 L750.9,409.5 L752.9,408.9 L754.9,408.3 L756.8,407.8 L758.8,407.2 L760.8,406.7 L762.8,406.2 L764.8,405.7 L766.8,405.2 L768.8,404.7 L770.8,404.3 L772.7,403.8 L774.7,403.4 L776.7,403.0 L778.7,402.6 L780.7,402.2 L782.7,401.9 L784.7,401.5 L786.7,401.2 L788.7,400.9 L790.7,400.6 L792.7,400.3 L794.7,400.0 L796.7,399.7 L798.7,399.5 L800.6,399.2 L802.6,399.0 L804.6,398.8 L806.6,398.5 L808.6,398.3 L810.6,398.2 L812.6,398.0 L814.6,397.8 L816.6,397.6 L818.6,397.5 L820.6,397.3 L822.6,397.2 L824.6,397.1 L826.6,396.9 L828.6,396.8 L830.6,396.7 L832.6,396.6 L834.6,396.5 L836.6,396.4" stroke="#008000" stroke-width="0.8" stroke-dasharray="1.3 2.4" opacity="0.22" stroke-linecap="butt"/>
<path d="M170.6,866.9 L172.6,866.8 L174.6,866.8 L176.6,866.7 L178.6,866.7 L180.6,866.7 L182.6,866.6 L184.6,866.6 L186.6,866.5 L188.6,866.5 L190.6,866.4 L192.6,866.3 L194.6,866.3 L196.6,866.2 L198.6,866.1 L200.6,866.1 L202.6,866.0 L204.6,865.9 L206.6,865.8 L208.6,865.8 L210.6,865.7 L212.6,865.6 L214.6,865.5 L216.6,865.4 L218.6,865.3 L220.6,865.1 L222.6,865.0 L224.6,864.9 L226.6,864.8 L228.6,864.6 L230.6,864.5 L232.6,864.3 L234.6,864.2 L236.6,864.0 L238.6,863.8 L240.6,863.6 L242.6,863.4 L244.6,863.2 L246.6,863.0 L248.6,862.8 L250.6,862.6 L252.6,862.4 L254.6,862.1 L256.6,861.9 L258.6,861.6 L260.6,861.4 L262.6,861.1 L264.6,860.8 L266.6,860.5 L268.6,860.2 L270.6,859.9 L272.6,859.6 L274.6,859.2 L276.6,858.9 L278.6,858.5 L280.6,858.1 L282.6,857.8 L284.6,857.4 L286.6,857.0 L288.6,856.5 L290.6,856.1 L292.6,855.7 L294.6,855.2 L296.6,854.7 L298.6,854.2 L300.6,853.7 L302.6,853.2 L304.6,852.7 L306.6,852.1 L308.6,851.6 L310.6,851.0 L312.6,850.4 L314.6,849.8 L316.6,849.1 L318.6,848.5 L320.6,847.8 L322.6,847.1 L324.6,846.4 L326.6,845.7 L328.6,844.9 L330.6,844.2 L332.6,843.4 L334.6,842.6 L336.6,841.7 L338.6,840.9 L340.6,840.0 L342.6,839.1 L344.6,838.2 L346.6,837.2 L348.6,836.3 L350.6,835.3 L352.6,834.2 L354.6,833.2 L356.6,832.1 L358.6,831.0 L360.6,829.9 L362.6,828.7 L364.6,827.6 L366.6,826.3 L368.6,825.1 L370.6,823.8 L372.6,822.6 L374.6,821.2 L376.6,819.9 L378.6,818.5 L380.6,817.1 L382.6,815.6 L384.6,814.2 L386.6,812.7 L388.6,811.1 L390.6,809.6 L392.6,808.0 L394.6,806.3 L396.6,804.7 L398.6,802.9 L400.6,801.2 L402.6,799.4 L404.6,797.6 L406.6,795.8 L408.6,793.9 L410.6,792.1 L412.6,790.1 L414.6,788.2 L416.6,786.2 L418.6,784.2 L420.6,782.1 L422.6,780.0 L424.6,777.9 L426.6,775.8 L428.6,773.6 L430.6,771.4 L432.6,769.2 L434.6,766.9 L436.6,764.6 L438.6,762.3 L440.6,760.0 L442.6,757.6 L444.6,755.2 L446.6,752.8 L448.6,750.3 L450.6,747.9 L452.6,745.3 L454.6,742.8 L456.6,740.3 L458.6,737.7 L460.6,735.1 L462.6,732.5 L464.6,729.8 L466.6,727.1 L468.6,724.4 L470.6,721.7 L472.6,718.9 L474.6,716.2 L476.6,713.4 L478.6,710.5 L480.6,707.7 L482.6,704.8 L484.6,702.0 L486.6,699.1 L488.6,696.1 L490.6,693.2 L492.6,690.2 L494.6,687.3 L496.6,684.3 L498.6,681.3 L500.6,678.2 L502.6,675.2 L504.6,672.2 L506.6,669.1 L508.6,666.0 L510.6,662.9 L512.6,659.8 L514.6,656.7 L516.6,653.6 L518.6,650.5 L520.6,647.4 L522.6,644.2 L524.7,641.0 L526.7,637.7 L528.8,634.3 L530.9,631.0 L533.0,627.6 L535.1,624.2 L537.2,620.9 L539.3,617.6 L541.4,614.3 L543.4,611.1 L545.5,608.0 L547.5,604.9 L549.5,601.9 L551.5,598.9 L553.5,595.9 L555.5,593.0 L557.5,590.0 L559.5,587.0 L561.5,584.1 L563.5,581.1 L565.5,578.1 L567.5,575.2 L569.5,572.2 L571.5,569.2 L573.5,566.3 L575.5,563.3 L577.5,560.3 L579.5,557.4 L581.5,554.4 L583.5,551.5 L585.5,548.6 L587.5,545.6 L589.5,542.7 L591.5,539.9 L593.5,537.0 L595.5,534.2 L597.5,531.4 L599.5,528.6 L601.5,525.8 L603.5,523.1 L605.5,520.4 L607.5,517.8 L609.5,515.2 L611.5,512.6 L613.5,510.0 L615.5,507.5 L617.5,505.1 L619.4,502.6 L621.4,500.2 L623.4,497.9 L625.4,495.5 L627.4,493.2 L629.4,490.9 L631.4,488.7 L633.4,486.5 L635.4,484.4 L637.4,482.2 L639.4,480.1 L641.4,478.1 L643.4,476.0 L645.4,474.1 L647.4,472.1 L649.4,470.2 L651.4,468.3 L653.3,466.4 L655.3,464.6 L657.3,462.8 L659.3,461.0 L661.3,459.3 L663.3,457.6 L665.3,455.9 L667.3,454.3 L669.3,452.7 L671.3,451.1 L673.3,449.6 L675.3,448.0 L677.3,446.5 L679.2,445.1 L681.2,443.7 L683.2,442.3 L685.2,440.9 L687.2,439.5 L689.2,438.2 L691.2,436.9 L693.2,435.7 L695.2,434.4 L697.2,433.2 L699.2,432.1 L701.1,430.9 L703.1,429.8 L705.1,428.7 L707.1,427.6 L709.1,426.5 L711.1,425.5 L713.1,424.5 L715.1,423.5 L717.1,422.6 L719.1,421.6 L721.1,420.7 L723.0,419.8 L725.0,419.0 L727.0,418.1 L729.0,417.3 L731.0,416.5 L733.0,415.7 L735.0,415.0 L737.0,414.2 L739.0,413.5 L741.0,412.8 L742.9,412.1 L744.9,411.4 L746.9,410.8 L748.9,410.1 L750.9,409.5 L752.9,408.9 L754.9,408.3 L756.8,407.8 L758.8,407.2 L760.8,406.7 L762.8,406.2 L764.8,405.7 L766.8,405.2 L768.8,404.7 L770.8,404.3 L772.7,403.8 L774.7,403.4 L776.7,403.0 L778.7,402.6 L780.7,402.2 L782.7,401.9 L784.7,401.5 L786.7,401.2 L788.7,400.9 L790.7,400.6 L792.7,400.3 L794.7,400.0 L796.7,399.7 L798.7,399.5 L800.6,399.2 L802.6,399.0 L804.6,398.8 L806.6,398.5 L808.6,398.3 L810.6,398.2 L812.6,398.0 L814.6,397.8 L816.6,397.6 L818.6,397.5 L820.6,397.3 L822.6,397.2 L824.6,397.1 L826.6,396.9 L828.6,396.8 L830.6,396.7 L832.6,396.6 L834.6,396.5 L836.6,396.4" stroke="#008000" stroke-width="5.0" stroke-dasharray="14 10.65 0.2 10.65"/>
</g>
<g fill="none" stroke-linecap="round">
<path d="M695.3,689.5 H815.3" stroke="#555555" stroke-width="5.0"/>
<path d="M695.3,757.3 H815.3" stroke="#ff0000" stroke-width="5.0" stroke-dasharray="19.6 25.7"/>
<path d="M695.3,825 H815.3" stroke="#0000ff" stroke-width="5.1" stroke-dasharray="3.3 23.8"/>
<path d="M695.3,892.9 H815.3" stroke="#008000" stroke-width="5.1" stroke-dasharray="13.9 10.6 0.3 10.6"/>
</g>
<g opacity="0.999">
<text transform="translate(88.75,308.90) scale(1,1.03)" font-size="40" letter-spacing="-2.0" stroke="#000" stroke-width="0.3">200</text>
<text transform="translate(132.12,406.26) scale(1,1.03)" font-size="40" letter-spacing="0" stroke="#000" stroke-width="0.3">0</text>
<text transform="translate(87.85,503.61) scale(1,1.03)" font-size="40" letter-spacing="-2.0" stroke="#000" stroke-width="0.3">200</text>
<text transform="translate(87.85,600.97) scale(1,1.03)" font-size="40" letter-spacing="-2.0" stroke="#000" stroke-width="0.3">400</text>
<text transform="translate(87.85,698.33) scale(1,1.03)" font-size="40" letter-spacing="-2.0" stroke="#000" stroke-width="0.3">600</text>
<text transform="translate(87.85,795.69) scale(1,1.03)" font-size="40" letter-spacing="-2.0" stroke="#000" stroke-width="0.3">800</text>
<text transform="translate(86.65,893.04) scale(1,1.03)" font-size="40" letter-spacing="-2.0" stroke="#000" stroke-width="0.3">000</text>
<text transform="translate(86.65,990.40) scale(1,1.03)" font-size="40" letter-spacing="-2.0" stroke="#000" stroke-width="0.3">200</text>
<text transform="translate(156.93,1022.70) scale(1,1.03)" font-size="40" letter-spacing="0" stroke="#000" stroke-width="0.3">0</text>
<text transform="translate(328.43,1022.70) scale(1,1.03)" font-size="40" letter-spacing="0" stroke="#000" stroke-width="0.3">3</text>
<text transform="translate(500.27,1022.70) scale(1,1.03)" font-size="40" letter-spacing="0" stroke="#000" stroke-width="0.3">6</text>
<text transform="translate(671.78,1022.70) scale(1,1.03)" font-size="40" letter-spacing="0" stroke="#000" stroke-width="0.3">9</text>
<text transform="translate(230.00,376.70) scale(0.9,1.0)" font-size="52.8" letter-spacing="0" stroke="#000" stroke-width="0.8">a</text>
<text transform="translate(288.32,376.50) scale(1,1.05)" font-size="51" letter-spacing="0" stroke="#000" stroke-width="1.2">E</text>
<text transform="translate(329.48,390.70) scale(1,1.0)" font-size="33.6" letter-spacing="0.45" stroke="#000" stroke-width="0.6">lab</text>
<text transform="translate(438.60,377.10) scale(1,1.035)" font-size="54" letter-spacing="-2.0" stroke="#000" stroke-width="0.4">80</text>
<text transform="translate(509.22,376.35) scale(1,1.015)" font-size="52.8" letter-spacing="-2.05" stroke="#000" stroke-width="1.5">MeV</text>
<text transform="translate(540.60,1062.90) scale(1,1.0)" font-size="44" letter-spacing="0" stroke="#000" stroke-width="0.5">r</text>
<text transform="translate(582.08,1062.70) scale(1,1.0)" font-size="44" letter-spacing="-0.95" stroke="#000" stroke-width="0.8">fm</text>
</g>
<g fill="#000">
<rect x="77.8" y="490.41" width="11.3" height="5.8"/>
<rect x="77.8" y="587.77" width="11.3" height="5.8"/>
<rect x="77.8" y="685.13" width="11.3" height="5.8"/>
<rect x="77.8" y="782.49" width="11.3" height="5.8"/>
<rect x="55.8" y="879.84" width="11.3" height="5.8"/>
<path d="M81.80,893.04 H76.31 V872.57 Q73.30,875.35 69.22,876.68 V871.75 Q71.37,871.06 73.89,869.11 Q76.41,867.17 77.35,864.58 H81.80 Z" fill="#000"/>
<rect x="55.8" y="977.20" width="11.3" height="5.8"/>
<path d="M81.80,990.40 H76.31 V969.92 Q73.30,972.71 69.22,974.04 V969.11 Q71.37,968.42 73.89,966.47 Q76.41,964.53 77.35,961.94 H81.80 Z" fill="#000"/>
<rect x="397.5" y="348.5" width="27.5" height="7.3"/>
<rect x="397.5" y="360.4" width="27.5" height="7.2"/>
<path d="M223.56,338.00 Q206.44,363.25 223.56,388.50 L228.80,388.50 Q216.38,363.25 228.80,338.00 Z"/>
<path d="M263.74,338.00 Q280.86,363.25 263.74,388.50 L258.50,388.50 Q270.92,363.25 258.50,338.00 Z"/>
<path d="M576.39,1030.60 Q562.01,1051.85 576.39,1073.10 L580.80,1073.10 Q570.36,1051.85 580.80,1030.60 Z"/>
<path d="M639.01,1030.60 Q653.39,1051.85 639.01,1073.10 L634.60,1073.10 Q645.04,1051.85 634.60,1030.60 Z"/>
</g>
<g transform="translate(41.3,0) rotate(-90)" opacity="0.999">
<text transform="translate(-769.23,-0.60) scale(1,1.02)" font-size="44" letter-spacing="0" stroke="#000" stroke-width="1.2">V</text>
<text transform="translate(-739.20,11.40) scale(1,1.06)" font-size="29" letter-spacing="-1.0" stroke="#000" stroke-width="0.8">DF</text>
<text transform="translate(-673.47,-0.40) scale(1,1.0)" font-size="42.5" letter-spacing="0" stroke="#000" stroke-width="0.6">r</text>
<text transform="translate(-617.55,-0.60) scale(1,1.02)" font-size="44" letter-spacing="-1.12" stroke="#000" stroke-width="1.2">MeV</text>
<g fill="#000"><path d="M-678.59,-33.10 Q-692.61,-11.85 -678.59,9.40 L-674.30,9.40 Q-684.47,-11.85 -674.30,-33.10 Z"/>
<path d="M-652.01,-33.10 Q-637.99,-11.85 -652.01,9.40 L-656.30,9.40 Q-646.13,-11.85 -656.30,-33.10 Z"/>
<path d="M-623.02,-33.10 Q-636.78,-11.85 -623.02,9.40 L-618.80,9.40 Q-628.79,-11.85 -618.80,-33.10 Z"/>
<path d="M-526.78,-33.10 Q-513.02,-11.85 -526.78,9.40 L-531.00,9.40 Q-521.01,-11.85 -531.00,-33.10 Z"/></g>
</g>
</svg>
</body></html>
